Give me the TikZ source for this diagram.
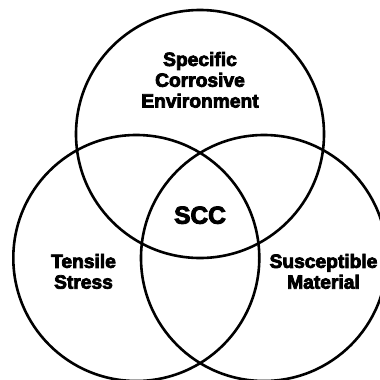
\documentclass[tikz,border=0pt]{standalone}
\usepackage{fontspec}
\newfontfamily\lblfont{Liberation Sans}[BoldFeatures={FakeBold=4}]
\begin{document}
\begin{tikzpicture}[x=1pt,y=-1pt,
  ring/.style={circle,draw=black,line width=2.6pt,inner sep=0pt,outer sep=0pt},
  lbl/.style={align=center,inner sep=0pt,font=\lblfont\bfseries\fontsize{19.2}{20.8}\selectfont},
  big/.style={inner sep=0pt,font=\lblfont\bfseries\fontsize{24.5}{26}\selectfont}]
\useasboundingbox (0,0) rectangle (380,380);
\clip (0,0) rectangle (380,380);
\node[ring,minimum size=248pt] (env) at (200,134) {};
\node[ring,minimum size=246pt] (stress) at (136.3,258) {};
\node[ring,minimum size=246pt] (mat) at (264,258) {};
\node[lbl] (envt) at (200,79.9) {Specific\\Corrosive\\Environment};
\node[lbl] (stresst) at (83.5,271.4) {Tensile\\Stress};
\node[lbl] (matt) at (323.5,271.4) {Susceptible\\Material};
\node[big] (scc) at (200,215.2) {SCC};
\end{tikzpicture}
\end{document}
